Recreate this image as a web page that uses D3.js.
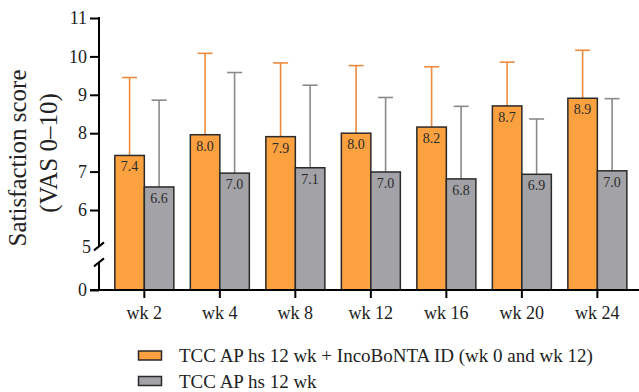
<!DOCTYPE html>
<html>
<head>
<meta charset="utf-8">
<script src="https://cdn.jsdelivr.net/npm/d3@7"></script>
<style>
  html, body { margin: 0; padding: 0; background: #fff; }
  svg { display: block; font-family: "Liberation Serif", "Times New Roman", serif; }
</style>
</head>
<body>
<svg id="chart" width="639" height="392"></svg>
<script>
// ---- data ----
const categories = ["wk 2", "wk 4", "wk 8", "wk 12", "wk 16", "wk 20", "wk 24"];
const seriesNames = ["TCC AP hs 12 wk + IncoBoNTA ID (wk 0 and wk 12)", "TCC AP hs 12 wk"];
const comboMean = [7.42, 7.96, 7.91, 8.0, 8.16, 8.71, 8.91];
const comboSD   = [2.03, 2.12, 1.92, 1.76, 1.57, 1.14, 1.25];
const tccMean   = [6.6, 6.96, 7.1, 6.99, 6.81, 6.93, 7.02];
const tccSD     = [2.26, 2.62, 2.15, 1.94, 1.89, 1.44, 1.88];
const yTickValues = [0, 5, 6, 7, 8, 9, 10, 11];
const seriesColors = ["#FBA13F", "#A2A2A7"];
const errColors = ["#EE8A3E", "#8A8A8A"];

const svg = d3.select("#chart");
const serif = "Liberation Serif, Times New Roman, serif";

// ---- scales ----
const x = d3.scaleBand().domain(categories).range([106.6, 635.1])
  .paddingInner(0.2185).paddingOuter(0.109);
const xSub = d3.scaleBand().domain([0, 1]).range([0, x.bandwidth()]);
// broken axis: 0..5 compressed, 5..11 linear
const y = d3.scaleLinear().domain([0, 5, 11]).range([290, 248.4, 18]);

const axisX = 99;
const series = [
  { mean: comboMean, sd: comboSD },
  { mean: tccMean, sd: tccSD }
];

// ---- error bars ----
series.forEach((s, si) => {
  const g = svg.append("g");
  categories.forEach((c, i) => {
    const x0 = x(c) + xSub(si);
    const w = xSub.bandwidth();
    const cx = x0 + w / 2;
    const top = y(s.mean[i] + s.sd[i]);
    g.append("line").attr("x1", cx).attr("x2", cx)
      .attr("y1", y(s.mean[i])).attr("y2", top)
      .attr("stroke", errColors[si]).attr("stroke-width", 1.6);
    g.append("line").attr("x1", cx - 7.5).attr("x2", cx + 7.5)
      .attr("y1", top).attr("y2", top)
      .attr("stroke", errColors[si]).attr("stroke-width", 1.6);
  });
});
// ---- bars ----
series.forEach((s, si) => {
  const g = svg.append("g");
  categories.forEach((c, i) => {
    const x0 = x(c) + xSub(si);
    const w = xSub.bandwidth();
    g.append("rect").attr("x", x0).attr("y", y(s.mean[i]))
      .attr("width", w).attr("height", y(0) - y(s.mean[i]))
      .attr("fill", seriesColors[si]).attr("stroke", "#2a2a2a").attr("stroke-width", 1.5);
    g.append("text").attr("x", x0 + w / 2).attr("y", y(s.mean[i]) + 16)
      .attr("text-anchor", "middle").attr("font-size", 14).attr("fill", "#2b2b2b")
      .attr("font-family", serif)
      .text(s.mean[i].toFixed(1));
  });
});

// ---- x axis ----
const xAxisG = svg.append("g").attr("transform", `translate(0,${y(0)})`)
  .call(d3.axisBottom(x).tickSize(8).tickPadding(8));
xAxisG.attr("font-family", serif);
xAxisG.select(".domain").remove();
xAxisG.selectAll(".tick line").attr("stroke", "#000").attr("stroke-width", 2);
xAxisG.selectAll(".tick text").attr("font-size", 18).attr("fill", "#222");
svg.append("line").attr("x1", axisX - 9).attr("x2", 639)
  .attr("y1", y(0)).attr("y2", y(0)).attr("stroke", "#000").attr("stroke-width", 2);

// ---- y axis (broken) ----
const yAxisG = svg.append("g").attr("transform", `translate(${axisX},0)`)
  .call(d3.axisLeft(y).tickValues(yTickValues).tickFormat(d3.format("d")).tickSize(9).tickPadding(3));
yAxisG.attr("font-family", serif);
yAxisG.select(".domain").remove();
yAxisG.selectAll(".tick line").attr("stroke", "#000").attr("stroke-width", 2)
  .filter(d => d === 5).remove();
yAxisG.selectAll(".tick text").attr("font-size", 18).attr("fill", "#222");
yAxisG.selectAll(".tick").filter(d => d === 5).select("text").attr("x", -8).attr("dy", "0.2em");

const breakTop = y(5) - 2;
const breakBot = y(5) + 14;
svg.append("line").attr("x1", axisX).attr("x2", axisX)
  .attr("y1", y(11) - 1).attr("y2", breakTop).attr("stroke", "#000").attr("stroke-width", 2);
svg.append("line").attr("x1", axisX).attr("x2", axisX)
  .attr("y1", breakBot).attr("y2", y(0) + 1).attr("stroke", "#000").attr("stroke-width", 2);
[breakTop, breakBot].forEach(yy => {
  svg.append("line").attr("x1", axisX - 5).attr("x2", axisX + 5)
    .attr("y1", yy + 4).attr("y2", yy - 4).attr("stroke", "#000").attr("stroke-width", 2);
});

// ---- y title ----
const title = svg.append("g").attr("transform", "rotate(-90)")
  .attr("text-anchor", "middle").attr("font-size", 25).attr("fill", "#222")
  .attr("font-family", serif);
title.append("text").attr("x", -158).attr("y", 26).text("Satisfaction score");
title.append("text").attr("x", -153).attr("y", 57).text("(VAS 0–10)");

// ---- legend ----
const legend = svg.append("g").attr("font-family", serif);
seriesNames.forEach((name, i) => {
  const ly = 351 + i * 25.5;
  legend.append("rect").attr("x", 138.5).attr("y", ly).attr("width", 23).attr("height", 9)
    .attr("fill", seriesColors[i]).attr("stroke", "#2a2a2a").attr("stroke-width", 1.5);
  legend.append("text").attr("x", 179).attr("y", ly + 11).attr("font-size", 19)
    .attr("fill", "#222").text(name);
});
</script>
</body>
</html>
